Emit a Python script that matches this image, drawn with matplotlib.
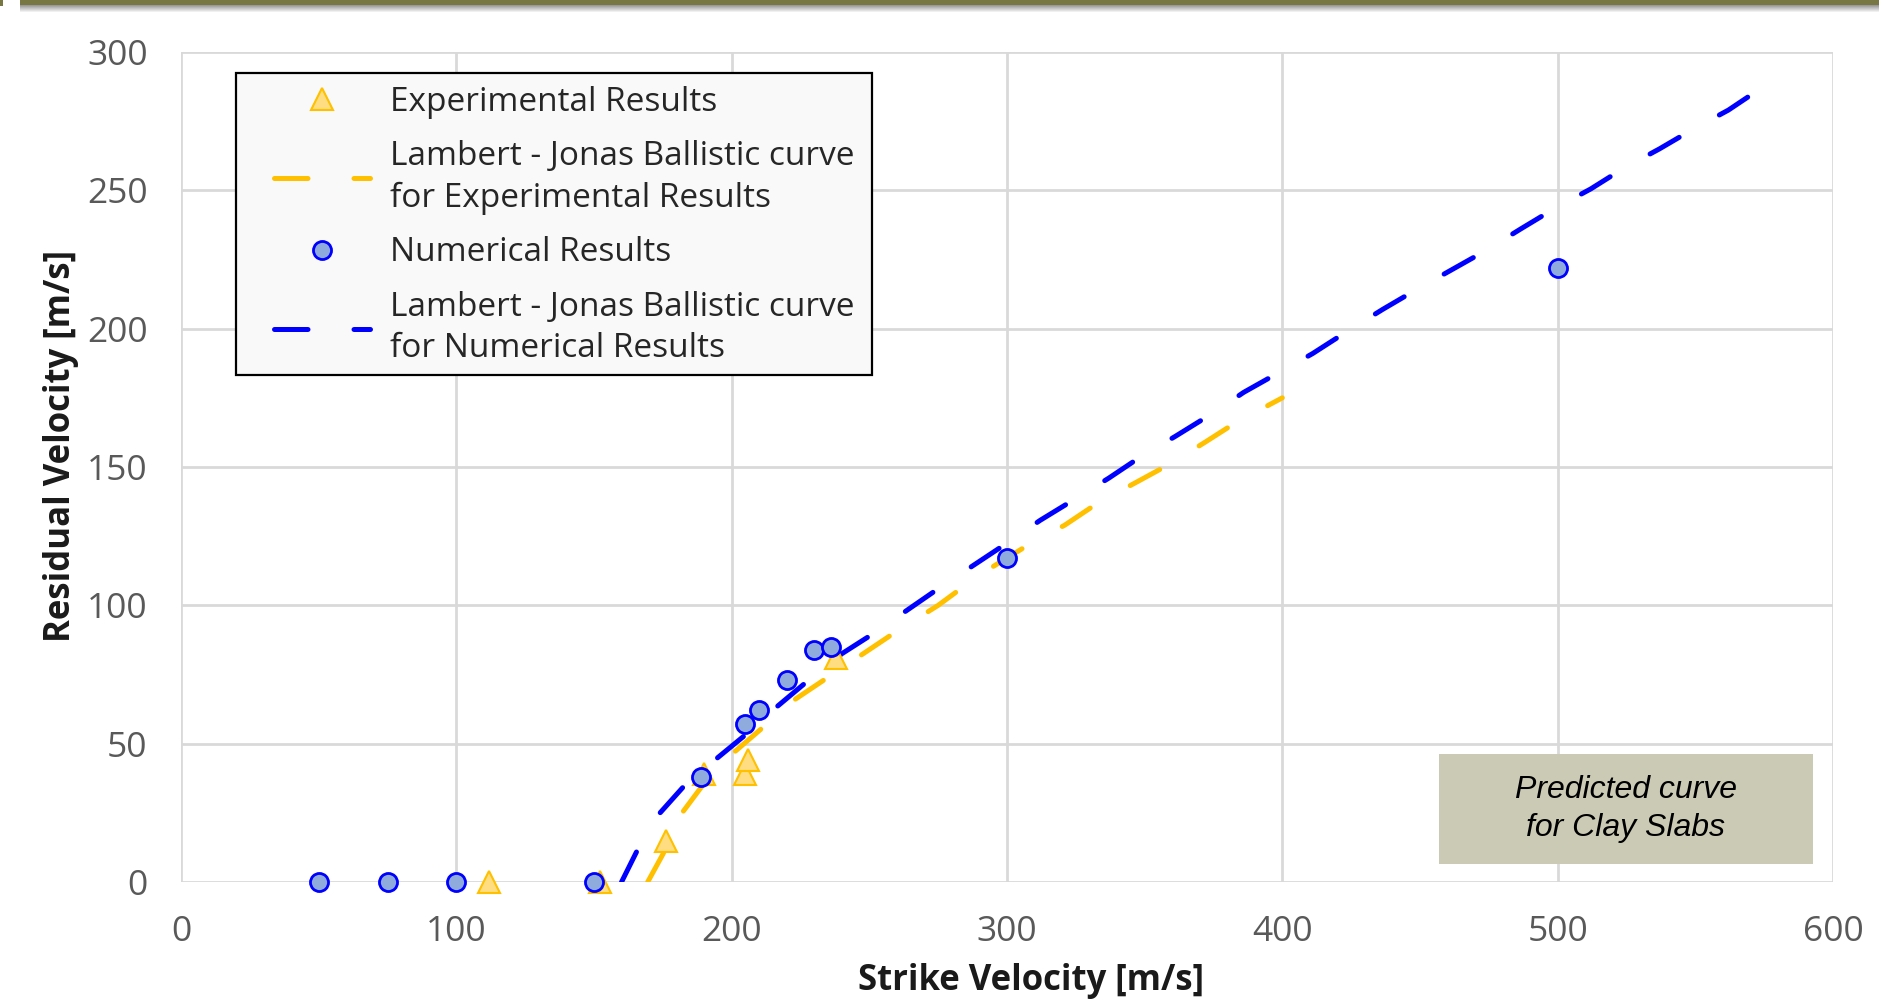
import matplotlib
matplotlib.use("Agg")
import matplotlib.pyplot as plt
from matplotlib.patches import Rectangle

# ---- data ----
exp_strike = [112, 152, 176, 190, 205, 206, 238]
exp_resid = [0, 0, 15, 39, 39, 44, 81]

num_strike = [50, 75, 100, 150, 189, 205, 210, 220, 230, 236, 300, 500]
num_resid = [0, 0, 0, 0, 38, 57, 62, 73, 84, 85, 117, 222]

lj_exp_x = [169.5, 175, 182, 191, 201, 211.5, 223, 235, 247, 259, 275, 290,
            308, 321, 333, 347, 359, 372, 383, 400]
lj_exp_y = [0, 10, 25, 37, 47, 56, 66, 74, 82, 90, 100, 111,
            122, 129, 137, 144.5, 151, 159, 166, 175]

lj_num_x = [160, 166, 174, 183, 195, 206, 216, 228, 240, 251, 275, 300,
            312, 324, 337, 349, 361, 374, 386, 398.5, 411, 423.5, 436.5,
            448.5, 461, 473.5, 486.5, 499, 512, 524, 537, 549, 562, 571]
lj_num_y = [0, 12, 25, 35, 45, 54, 63, 73, 82.5, 89.5, 106, 122.5,
            130.7, 138, 146, 154, 161, 169, 177, 184, 191, 199, 207,
            214, 221, 228, 236, 243.5, 250.5, 258, 265, 272, 279, 285]

x_ticks = [0, 100, 200, 300, 400, 500, 600]
y_ticks = [0, 50, 100, 150, 200, 250, 300]

x_label = "Strike Velocity [m/s]"
y_label = "Residual Velocity [m/s]"
note = "Predicted curve\nfor Clay Slabs"
leg_labels = ["Experimental Results",
              "Lambert - Jonas Ballistic curve\nfor Experimental Results",
              "Numerical Results",
              "Lambert - Jonas Ballistic curve\nfor Numerical Results"]

plt.rcParams['font.family'] = ['Open Sans', 'DejaVu Sans']

W, H = 1879, 999
fig = plt.figure(figsize=(W / 100, H / 100), dpi=100)
fig.patch.set_facecolor('white')


def fx(px):
    return px / W


def fy(py):
    return 1 - py / H


# top olive band with soft shadow
for i in range(7):
    fig.patches.append(Rectangle((fx(20), fy(5 + i + 1)), 1, 1 / H,
                                 transform=fig.transFigure,
                                 color='#555555', alpha=0.6 * (1 - i / 7), lw=0))
fig.patches.append(Rectangle((fx(20), fy(5)), 1, 5 / H,
                             transform=fig.transFigure, color='#777743', lw=0))
fig.patches.append(Rectangle((0, fy(6)), fx(3), 6 / H,
                             transform=fig.transFigure, color='#777743', lw=0))

ax = fig.add_axes([fx(181), fy(882), (1833 - 181) / W, (882 - 52) / H])
ax.set_xlim(0, 600)
ax.set_ylim(0, 300)
ax.set_xticks(x_ticks)
ax.set_yticks(y_ticks)
ax.grid(True, color='#d9d9d9', lw=2.0)
ax.set_axisbelow(True)
for s in ax.spines.values():
    s.set_visible(False)
ax.tick_params(length=0, labelsize=25.5, labelcolor='#595959')
ax.tick_params(axis='x', pad=24)
ax.tick_params(axis='y', pad=24)

dash = (6.7, 9.2)
l1, = ax.plot(lj_exp_x, lj_exp_y, color='#FFC000', lw=3.6, dashes=dash,
              dash_capstyle='round', zorder=2)
l2, = ax.plot(lj_num_x, lj_num_y, color='#0000FF', lw=3.6, dashes=dash,
              dash_capstyle='round', zorder=2.1)
m1, = ax.plot(exp_strike, exp_resid, ls='none', marker='^', ms=16,
              mfc='#FFDD80', mec='#FFC000', mew=1.5, zorder=3, clip_on=False)
m2, = ax.plot(num_strike, num_resid, ls='none', marker='o', ms=13,
              mfc='#8FAADC', mec='#0000FF', mew=2.0, zorder=4, clip_on=False)

ax.set_xlabel(x_label, fontsize=25, fontweight='bold', color='#1a1a1a', labelpad=10)
ax.set_ylabel(y_label, fontsize=25, fontweight='bold', color='#1a1a1a', labelpad=6)
ax.xaxis.label.set_x(0.5145)
ax.yaxis.label.set_y(0.525)

# legend frame drawn manually
fig.patches.append(Rectangle((fx(236), fy(375)), (872 - 236) / W, (375 - 73) / H,
                             transform=fig.transFigure, facecolor='#f9f9f9',
                             edgecolor='black', lw=1.6, zorder=5))
leg = fig.legend([m1, l1, m2, l2], leg_labels, loc='upper left',
                 bbox_to_anchor=(fx(274), fy(86)), bbox_transform=fig.transFigure,
                 fontsize=24, frameon=False, handlelength=2.88,
                 handletextpad=0.6, borderpad=0, labelspacing=0.64,
                 borderaxespad=0)
leg.set_zorder(6)
for t in leg.get_texts():
    t.set_color('#262626')
    t.set_linespacing(1.33)

# note box
bx0, by0 = (1439 - 181) / (1833 - 181), 1 - (864 - 52) / (882 - 52)
bw, bh = (1813 - 1439) / (1833 - 181), (864 - 754) / (882 - 52)
ax.add_patch(Rectangle((bx0, by0), bw, bh, transform=ax.transAxes,
                       facecolor='#cbcab5', edgecolor='none', zorder=5))
ax.text(bx0 + bw / 2, by0 + bh / 2, note, transform=ax.transAxes,
        ha='center', va='center', fontsize=23, fontstyle='italic',
        family='Liberation Sans', color='black', zorder=6, linespacing=1.37)

fig.savefig('out.png', dpi=100)
